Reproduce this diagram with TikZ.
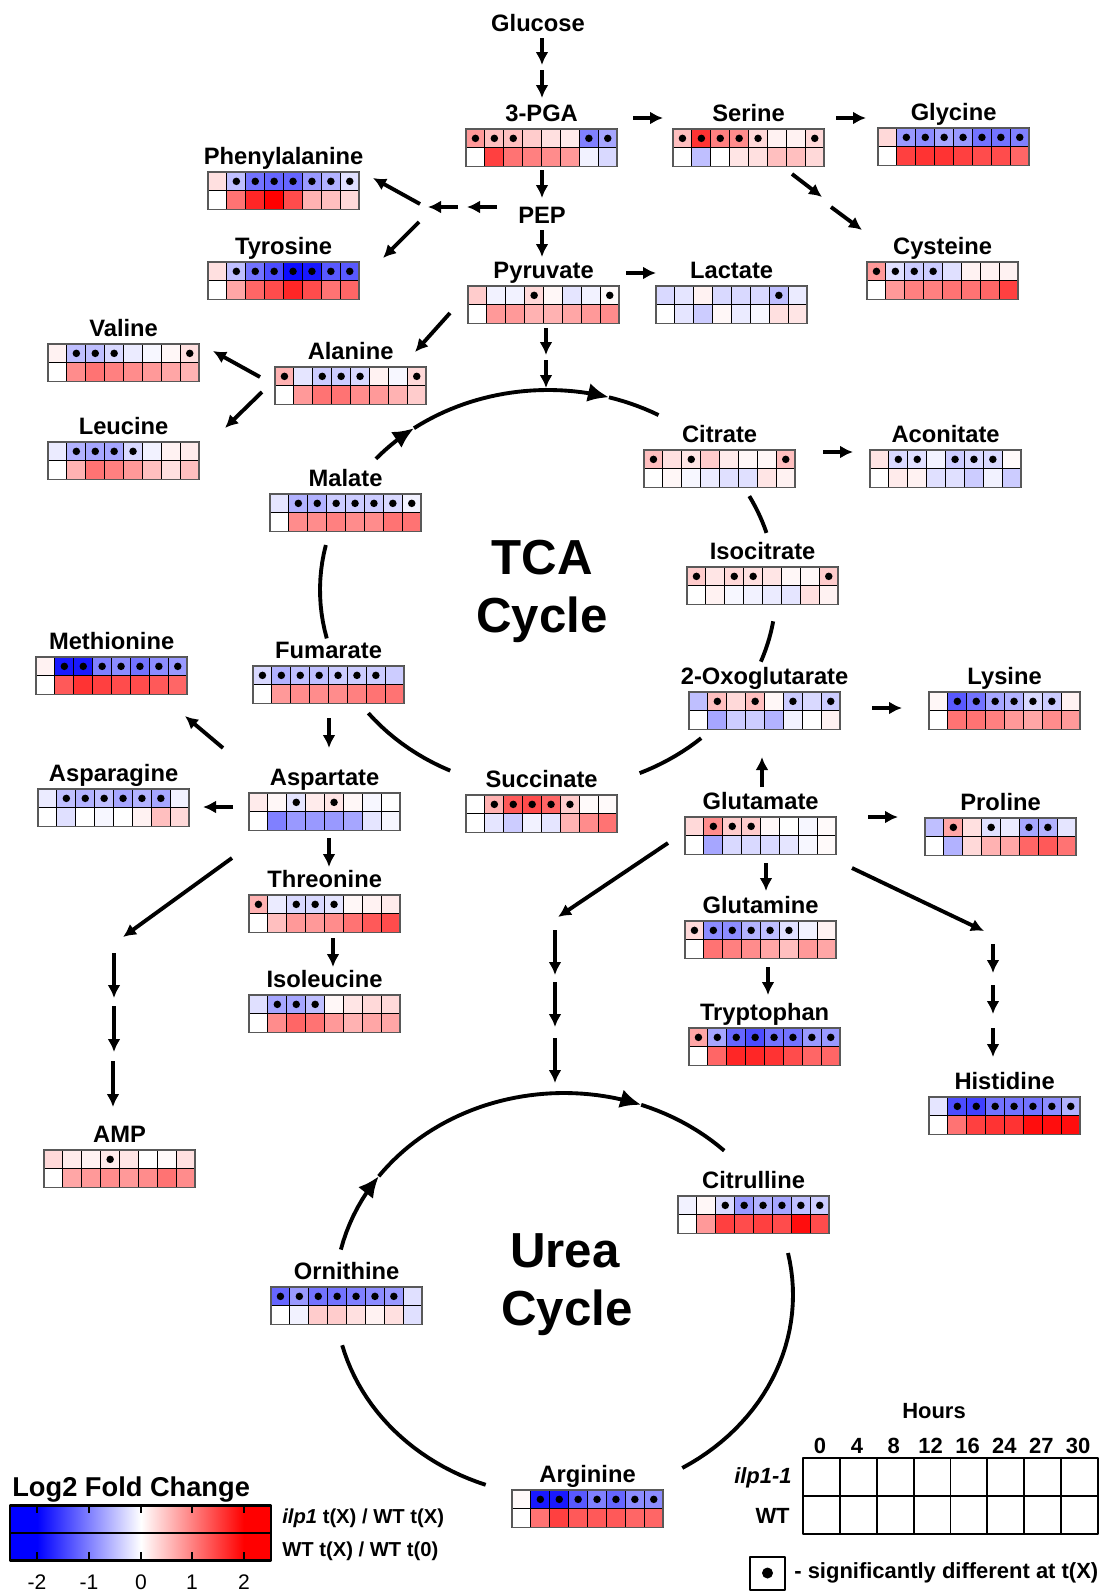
\documentclass[tikz,border=0pt]{standalone}
\usepackage{fontspec}
\setmainfont{Liberation Sans}
\usetikzlibrary{arrows.meta}

% one heat cell: x, y (top left), value in -100..100
\newcommand{\hcell}[3]{%
  \ifnum#3<0 \pgfmathtruncatemacro{\hv}{-(#3)}\def\hc{blue}\else\def\hv{#3}\def\hc{red}\fi
  \filldraw[hmcell,fill=\hc!\hv!white] (#1,#2) rectangle ++(18.9,18.7);}
% name, label, x, y, top row, dotted columns, bottom row
\newcommand{\hmap}[7]{%
  \node[metab] (#1) at ({#3+75.6},{#4-8}) {#2};
  \foreach \v [count=\i from 0] in {#5} {\hcell{#3+\i*18.9}{#4}{\v}}
  \foreach \v [count=\i from 0] in {#7} {\hcell{#3+\i*18.9}{#4+18.7}{\v}}
  \foreach \c in {#6} \fill ({#3+(\c-0.5)*18.9},{#4+9.35}) circle[radius=0.75mm];
  \draw[hmframe] (#3,#4) rectangle ({#3+151.2},{#4+37.4});}

\begin{document}
\begin{tikzpicture}[x=0.2mm,y=-0.2mm,line join=round,
  >={Latex[length=2.6mm,width=2.6mm]},
  metab/.style={font=\fontsize{13.5}{15}\selectfont\bfseries,inner sep=0pt,anchor=base},
  hmcell/.style={draw=black,line width=0.6pt},
  hmframe/.style={draw=black!65,line width=1pt},
  flux/.style={->,line width=2.2pt},
  cyc/.style={line width=2.2pt},
  cyctip/.style={cyc,-{Latex[length=4.2mm,width=3.8mm]}},
  big/.style={font=\fontsize{28}{33}\selectfont\bfseries,inner sep=0pt,anchor=base},
  leg/.style={font=\fontsize{12.5}{14}\selectfont\bfseries,inner sep=0pt}]
  \useasboundingbox (0,0) rectangle (1109,1591);

  \node[metab] (glc) at (538,31) {Glucose};
  \node[metab] (pep) at (542,223) {PEP};
  \hmap{pga}{3-PGA}{466}{129}{40,25,25,20,12,8,-50,-35}{1,2,3,7,8}{0,75,55,50,45,40,-5,-15}
  \hmap{ser}{Serine}{673}{129}{25,80,50,45,15,5,5,15}{1,2,3,4,5,8}{0,-25,0,10,12,25,25,15}
  \hmap{gly}{Glycine}{878}{128}{15,-40,-45,-35,-40,-55,-55,-50}{2,...,8}{0,75,80,80,75,70,70,60}
  \hmap{phe}{Phenylalanine}{208}{172}{12,-25,-55,-60,-60,-40,-30,-12}{2,...,8}{0,55,85,100,70,30,25,15}
  \hmap{tyr}{Tyrosine}{208}{262}{12,-25,-55,-70,-95,-90,-65,-65}{2,...,8}{0,35,60,70,85,70,55,60}
  \hmap{cys}{Cysteine}{867}{262}{40,-12,-20,-20,-12,5,5,5}{1,2,3,4}{0,40,50,50,55,55,60,75}
  \hmap{pyr}{Pyruvate}{468}{286}{20,-5,-5,15,3,-10,-5,2}{4,8}{0,40,40,30,30,35,40,45}
  \hmap{lac}{Lactate}{656}{286}{-15,-10,5,-15,-15,-15,-25,-8}{7}{0,-10,-20,3,-8,-3,12,10}
  \hmap{val}{Valine}{48}{344}{5,-25,-25,-15,-8,-3,3,12}{2,3,4,8}{0,45,55,50,45,40,35,30}
  \hmap{ala}{Alanine}{275}{367}{30,-10,-20,-20,-15,5,-3,15}{1,3,4,5,8}{0,40,55,55,45,40,30,20}
  \hmap{leu}{Leucine}{48}{442}{-8,-30,-35,-35,-15,-5,5,8}{2,3,4,5}{0,30,55,50,40,25,12,25}
  \hmap{cit}{Citrate}{644}{450}{25,12,10,20,8,3,3,25}{1,3,8}{0,3,-3,-8,-12,-12,10,5}
  \hmap{aco}{Aconitate}{870}{450}{10,-15,-12,-5,-20,-15,-15,2}{2,3,5,6,7}{0,8,5,-12,-12,-20,-5,-20}
  \hmap{mal}{Malate}{270}{494}{-10,-30,-30,-20,-20,-20,-15,-5}{2,...,8}{0,45,45,50,45,45,55,55}
  \hmap{iso}{Isocitrate}{687}{567}{20,10,15,12,10,3,3,20}{1,3,4,8}{0,5,-3,-5,-8,-10,12,5}
  \hmap{met}{Methionine}{36}{657}{5,-90,-90,-50,-45,-55,-45,-40}{2,...,8}{0,65,80,75,70,70,65,60}
  \hmap{fum}{Fumarate}{253}{666}{-15,-30,-25,-25,-20,-20,-20,-20}{1,...,7}{0,40,45,45,45,50,55,55}
  \hmap{og}{2-Oxoglutarate}{689}{692}{-25,25,15,25,3,-20,-15,-20}{2,4,6,8}{0,-35,-20,-20,-30,-5,0,5}
  \hmap{lys}{Lysine}{929}{692}{3,-65,-55,-35,-30,-15,-20,5}{2,...,7}{0,55,55,50,40,35,45,40}
  \hmap{asp}{Aspartate}{249}{793}{8,3,-10,8,10,3,-3,0}{3,5}{0,-50,-40,-40,-40,-35,-10,-3}
  \hmap{asn}{Asparagine}{38}{789}{-8,-25,-30,-25,-35,-30,-35,-5}{2,...,7}{0,-12,0,-3,0,5,25,15}
  \hmap{suc}{Succinate}{466}{795}{0,30,65,70,60,20,2,2}{2,3,4,5,6}{0,-10,-20,-5,-10,30,45,55}
  \hmap{glu}{Glutamate}{685}{817}{15,45,20,20,3,0,-3,2}{2,3,4}{0,-35,-15,-15,-15,-10,-3,2}
  \hmap{pro}{Proline}{925}{818}{-25,35,12,-12,-8,-35,-30,-10}{2,4,6,7}{0,-30,15,30,35,60,65,55}
  \hmap{thr}{Threonine}{249}{895}{30,-8,-15,-15,-10,3,5,8}{1,3,4,5}{0,25,40,40,45,55,65,70}
  \hmap{gln}{Glutamine}{685}{921}{15,-45,-45,-30,-25,-12,-5,5}{1,...,6}{0,55,50,45,35,25,40,35}
  \hmap{ile}{Isoleucine}{249}{995}{-12,-35,-35,-25,3,10,15,15}{2,3,4}{0,45,60,55,40,30,35,35}
  \hmap{trp}{Tryptophan}{689}{1028}{35,-35,-60,-70,-55,-55,-40,-40}{1,...,8}{0,60,85,85,80,70,60,60}
  \hmap{his}{Histidine}{929}{1097}{-10,-70,-75,-55,-55,-55,-45,-30}{2,...,8}{0,55,75,80,80,95,95,95}
  \hmap{amp}{AMP}{44}{1150}{15,8,5,8,10,0,2,12}{4}{0,35,40,45,40,45,55,45}
  \hmap{citr}{Citrulline}{678}{1196}{-5,3,-15,-40,-30,-35,-25,-20}{3,...,8}{0,40,75,70,75,70,95,70}
  \hmap{orn}{Ornithine}{271}{1287}{-60,-40,-55,-55,-50,-45,-40,-12}{1,...,7}{0,-5,20,20,12,5,12,-12}
  \hmap{arg}{Arginine}{512}{1490}{2,-90,-90,-65,-50,-60,-45,-45}{2,...,8}{0,55,75,65,65,65,60,60}

  % glycolysis and branches
  \draw[flux] (542,38) -- (542,65);
  \draw[flux] (542,70) -- (542,98);
  \draw[flux] (633,118) -- (663,118);
  \draw[flux] (836,118) -- (866,118);
  \draw[flux] (542,170) -- (542,198);
  \draw[flux] (497,207) -- (467,207);
  \draw[flux] (458,207) -- (428,207);
  \draw[flux] (420,204) -- (373,178);
  \draw[flux] (419,222) -- (383,258);
  \draw[flux] (542,230) -- (542,257);
  \draw[flux] (626,273) -- (656,273);
  \draw[flux] (792,174) -- (822,197);
  \draw[flux] (831,207) -- (862,230);
  \draw[flux] (450,313) -- (415,352);
  \draw[flux] (546,328) -- (546,355);
  \draw[flux] (546,360) -- (546,388);
  \draw[flux] (260,377) -- (213,351);
  \draw[flux] (262,392) -- (225,428);
  \draw[flux] (823,452) -- (853,452);
  % aspartate family
  \draw[flux] (329,718) -- (329,748);
  \draw[flux] (223,748) -- (185,716);
  \draw[flux] (233,807) -- (203,807);
  \draw[flux] (329,838) -- (329,867);
  \draw[flux] (333,938) -- (333,967);
  \draw[flux] (232,858) -- (123,937);
  \draw[flux] (114,953) -- (114,998);
  \draw[flux] (114,1006) -- (114,1052);
  \draw[flux] (113,1061) -- (113,1107);
  % glutamate family
  \draw[flux] (872,708) -- (902,708);
  \draw[flux] (762,787) -- (762,757);
  \draw[flux] (868,817) -- (898,817);
  \draw[flux] (766,863) -- (766,891);
  \draw[flux] (768,967) -- (768,995);
  \draw[flux] (852,868) -- (984,931);
  \draw[flux] (993,944) -- (993,973);
  \draw[flux] (993,985) -- (993,1014);
  \draw[flux] (993,1028) -- (993,1057);
  \draw[flux] (668,843) -- (558,917);
  \draw[flux] (555,930) -- (555,975);
  \draw[flux] (555,982) -- (555,1027);
  \draw[flux] (555,1038) -- (555,1083);

  % TCA cycle
  \draw[cyctip] plot[domain=-139:-126,samples=8] ({548+228*cos(\x)},{590+200*sin(\x)});
  \draw[cyctip] plot[domain=-126:-74.5,samples=30] ({548+228*cos(\x)},{590+200*sin(\x)});
  \draw[cyc] plot[domain=-74.5:-61,samples=8] ({548+228*cos(\x)},{590+200*sin(\x)});
  \draw[cyc] plot[domain=-28:-16.6,samples=8] ({548+228*cos(\x)},{590+200*sin(\x)});
  \draw[cyc] plot[domain=9:21,samples=8] ({548+228*cos(\x)},{590+200*sin(\x)});
  \draw[cyc] plot[domain=47.8:66.3,samples=10] ({548+228*cos(\x)},{590+200*sin(\x)});
  \draw[cyc] plot[domain=115.4:142,samples=12] ({548+228*cos(\x)},{590+200*sin(\x)});
  \draw[cyc] plot[domain=166:193,samples=12] ({548+228*cos(\x)},{590+200*sin(\x)});
  \node[big] (tca) at (542,574) {TCA};
  \node[big] (tcacyc) at (542,632) {Cycle};

  % urea cycle
  \draw[cyctip] plot[domain=-167:-144,samples=10] ({564+229*cos(\x)},{1295+202*sin(\x)});
  \draw[cyctip] plot[domain=-144:-70.3,samples=40] ({564+229*cos(\x)},{1295+202*sin(\x)});
  \draw[cyc] plot[domain=-70.3:-45.6,samples=12] ({564+229*cos(\x)},{1295+202*sin(\x)});
  \draw[cyc] plot[domain=110:165.6,samples=25] ({564+229*cos(\x)},{1295+202*sin(\x)});
  \draw[cyc] plot[domain=-12:58.9,samples=30] ({564+229*cos(\x)},{1295+202*sin(\x)});
  \node[big] (urea) at (565,1267) {Urea};
  \node[big] (ureacyc) at (567,1325) {Cycle};

  % colour bar
  \node[font=\fontsize{15.5}{17}\selectfont\bfseries,inner sep=0pt,anchor=base west] (lfc) at (12,1496) {Log2 Fold Change};
  \fill[blue] (10,1505) rectangle (37,1560);
  \fill[red] (244,1505) rectangle (271,1560);
  \shade[left color=blue,right color=white] (37,1505) rectangle (141,1560);
  \shade[left color=white,right color=red] (141,1505) rectangle (244,1560);
  \draw[line width=1.7pt] (10,1505) rectangle (271,1560);
  \draw[line width=0.9pt] (10,1533) -- (271,1533);
  \foreach \tx/\tl in {37/-2,89/-1,141/0,192/1,244/2} {
    \draw[line width=1pt] (\tx,1505) -- (\tx,1513) (\tx,1560) -- (\tx,1552);
    \node[font=\fontsize{12}{14}\selectfont,inner sep=0pt,anchor=base] at (\tx,1589) {\tl};
  }
  \node[leg,font=\fontsize{11.5}{13}\selectfont\bfseries,anchor=base west] (rmut) at (282,1523) {\textit{ilp1} t(X) / WT t(X)};
  \node[leg,font=\fontsize{11.5}{13}\selectfont\bfseries,anchor=base west] (rwt) at (282,1556) {WT t(X) / WT t(0)};

  % time key
  \node[leg,anchor=base] (hrs) at (934,1418) {Hours};
  \foreach \h [count=\k from 0] in {0,4,8,12,16,24,27,30}
    \node[leg,anchor=base] at ({820+\k*36.875},1453) {\h};
  \draw[line width=1.1pt] (803,1458) rectangle (1098,1534);
  \draw[line width=1.1pt] (803,1496) -- (1098,1496);
  \foreach \k in {1,...,7} \draw[line width=1.1pt] ({803+\k*36.875},1458) -- ++(0,76);
  \node[leg,anchor=base east] (kmut) at (792,1483) {\textit{ilp1-1}};
  \node[leg,anchor=base east] (kwt) at (790,1523) {WT};
  \draw[line width=1.2pt] (750,1557) rectangle (785,1590);
  \fill (767.5,1573) circle[radius=1.1mm];
  \node[leg,anchor=west] (sig) at (794,1573) {- significantly different at t(X)};
\end{tikzpicture}
\end{document}
